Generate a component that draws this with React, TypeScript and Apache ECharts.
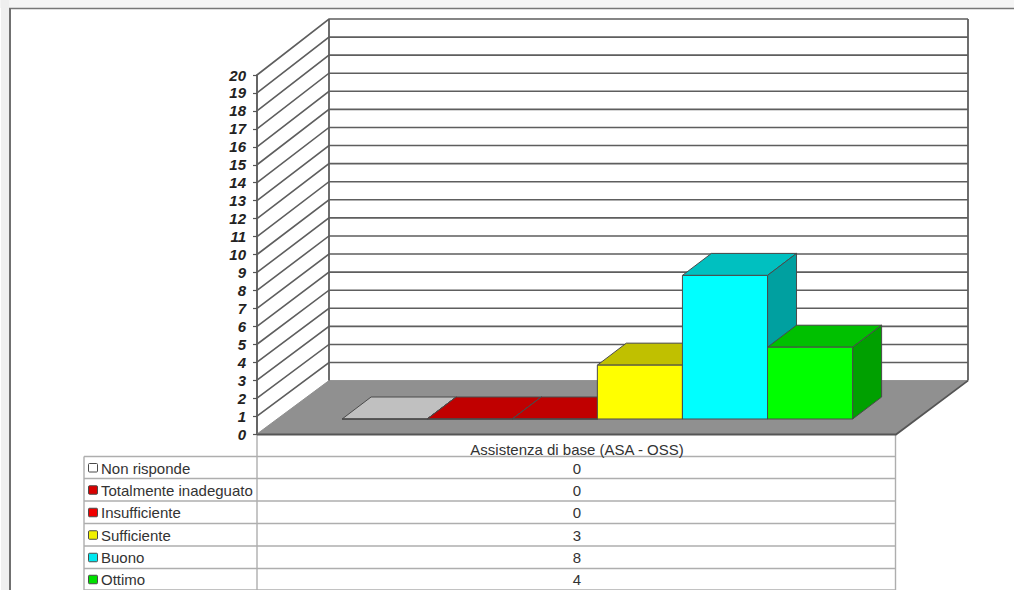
import React, { useEffect, useRef } from "react";
import * as echarts from "echarts";

// Survey answers for one service, one bar per rating.
const columnTitle = "Assistenza di base (ASA - OSS)";
const ratings = ["Non risponde", "Totalmente inadeguato", "Insufficiente", "Sufficiente", "Buono", "Ottimo"];
const counts = [0, 0, 0, 3, 8, 4];
const yTicks = [0, 1, 2, 3, 4, 5, 6, 7, 8, 9, 10, 11, 12, 13, 14, 15, 16, 17, 18, 19, 20];

// Face colours for each bar: front, top, side.
const frontColors = ["#FFFFFF", "#C80000", "#C80000", "#FFFF00", "#00FFFF", "#00FF00"];
const topColors = ["#C0C0C0", "#C00000", "#C00000", "#C0C000", "#00C0C0", "#00C000"];
const sideColors = ["#A0A0A0", "#A00000", "#A00000", "#A0A000", "#00A0A0", "#00A000"];
const swatchColors = ["#FFFFFF", "#D80000", "#F00000", "#F0F000", "#00E8F0", "#00E000"];

const FONT = "'Liberation Sans', Arial, sans-serif";
const EDGE = "#4a4a4a";
const RULE = "#5e5e5e";
const TABLE_LINE = "#aeaeae";

// Oblique projection of the box: the back wall sits up and to the right of the front plane,
// with a slightly longer vertical shift at the top of the wall than at the floor.
const WALL_DX = 72;
const WALL_DY_BOTTOM = 53.4;
const WALL_DY_TOP = 56;
const BAR_SHIFT_X = 20;
const BAR_SHIFT_Y = 15;
const BAR_DEPTH_X = 29;
const BAR_DEPTH_Y = 22;

const GRID = { left: 257, top: 75, width: 639, height: 359 };
const X_MIN = -0.765;
const X_MAX = 6.745;

const wallShift = (level: number) =>
  WALL_DY_BOTTOM + ((WALL_DY_TOP - WALL_DY_BOTTOM) * level) / yTicks[yTicks.length - 1];

// Data table under the plot.
const TABLE_LEFT = 84;
const TABLE_SPLIT = 257;
const TABLE_RIGHT = 895.5;
const TABLE_HEADER_TOP = 435;
const TABLE_ROW_LINES = [456.5, 478.5, 501, 523.5, 546, 568.5, 590];

function buildTable(): any[] {
  const out: any[] = [];
  const hLine = (x1: number, x2: number, y: number) => ({
    type: "line",
    silent: true,
    shape: { x1, y1: y, x2, y2: y },
    style: { stroke: TABLE_LINE, lineWidth: 1.4 },
  });
  const vLine = (x: number, y1: number, y2: number) => ({
    type: "line",
    silent: true,
    shape: { x1: x, y1, x2: x, y2 },
    style: { stroke: TABLE_LINE, lineWidth: 1.4 },
  });
  out.push(hLine(TABLE_SPLIT, TABLE_RIGHT, TABLE_ROW_LINES[0]));
  TABLE_ROW_LINES.slice(1).forEach((y) => out.push(hLine(TABLE_LEFT, TABLE_RIGHT, y)));
  out.push(hLine(TABLE_LEFT, TABLE_SPLIT, TABLE_ROW_LINES[0]));
  out.push(vLine(TABLE_LEFT, TABLE_ROW_LINES[0], 590));
  out.push(vLine(TABLE_SPLIT, TABLE_HEADER_TOP, 590));
  out.push(vLine(TABLE_RIGHT, TABLE_HEADER_TOP, 590));

  const textStyle = { font: `15px ${FONT}`, fill: "#333333", textVerticalAlign: "middle" };
  const center = 577;
  out.push({
    type: "text",
    silent: true,
    x: center,
    y: 449,
    style: { ...textStyle, text: columnTitle, textAlign: "center" },
  });
  ratings.forEach((name, i) => {
    const y = (TABLE_ROW_LINES[i] + TABLE_ROW_LINES[i + 1]) / 2 + 0.5;
    out.push({
      type: "rect",
      silent: true,
      shape: { x: 88.5, y: y - 4.5, width: 9, height: 8.5, r: 1 },
      style: { fill: swatchColors[i], stroke: "#4a4a4a", lineWidth: 1 },
    });
    out.push({
      type: "text",
      silent: true,
      x: 101,
      y,
      style: { ...textStyle, text: name, textAlign: "left" },
    });
    out.push({
      type: "text",
      silent: true,
      x: center,
      y,
      style: { ...textStyle, text: String(counts[i]), textAlign: "center" },
    });
  });
  return out;
}

// Page edge around the sheet: pale margins and a dark frame line.
const sheetFrame: any[] = [
  { type: "rect", silent: true, shape: { x: 0, y: 0, width: 1014, height: 8 }, style: { fill: "#f5f5f5" } },
  { type: "rect", silent: true, shape: { x: 1, y: 0, width: 8, height: 590 }, style: { fill: "#efefef" } },
  { type: "line", silent: true, shape: { x1: 9, y1: 8.5, x2: 1014, y2: 8.5 }, style: { stroke: "#777777", lineWidth: 1.6 } },
  { type: "line", silent: true, shape: { x1: 10, y1: 8, x2: 10, y2: 590 }, style: { stroke: "#707070", lineWidth: 2 } },
];

// Floor of the box, from the y = 0 edge of the plot to the back wall.
function renderFloor(_params: any, api: any) {
  const [x0, y0] = api.coord([X_MIN, 0]);
  const [x1] = api.coord([X_MAX, 0]);
  const backY = y0 - wallShift(0);
  return {
    type: "group",
    children: [
      {
        type: "polygon",
        shape: {
          points: [
            [x0, y0],
            [x1, y0],
            [x1 + WALL_DX, backY],
            [x0 + WALL_DX, backY],
          ],
        },
        style: { fill: "#909090", stroke: "#909090", lineWidth: 1 },
      },
      {
        type: "polyline",
        shape: {
          points: [
            [x0, y0 + 0.5],
            [x1, y0 + 0.5],
            [x1 + WALL_DX, backY],
          ],
        },
        style: { fill: "none", stroke: "#555555", lineWidth: 1.8 },
      },
    ],
  };
}

// One tick level across the left wall and the back wall.
function renderWallRule(_params: any, api: any) {
  const level = api.value(1);
  const [x0, y] = api.coord([X_MIN, level]);
  const [x1] = api.coord([X_MAX, level]);
  const backY = y - wallShift(level);
  const children: any[] = [];
  if (level !== 0) {
    children.push({
      type: "polyline",
      shape: {
        points: [
          [x0, y],
          [x0 + WALL_DX, backY],
          [x1 + WALL_DX, backY],
        ],
      },
      style: { fill: "none", stroke: RULE, lineWidth: 1.6 },
    });
  }
  return { type: "group", children };
}

// Vertical corners of the back wall.
function renderWallCorners(_params: any, api: any) {
  const top = yTicks[yTicks.length - 1];
  const [x0, y0] = api.coord([X_MIN, 0]);
  const [x1, yTop] = api.coord([X_MAX, top]);
  const line = (x: number) => ({
    type: "line",
    shape: { x1: x + WALL_DX, y1: y0 - wallShift(0), x2: x + WALL_DX, y2: yTop - wallShift(top) },
    style: { stroke: RULE, lineWidth: 1.8 },
  });
  return { type: "group", children: [line(x0), line(x1)] };
}

// A box with three visible faces, standing on the floor.
function renderBar(params: any, api: any) {
  const i = params.dataIndex;
  const index = api.value(0);
  const [xa, y0] = api.coord([index, 0]);
  const [xb] = api.coord([index + 1, 0]);
  const [, yv] = api.coord([index, api.value(1)]);
  const left = xa + BAR_SHIFT_X;
  const right = xb + BAR_SHIFT_X;
  const base = y0 - BAR_SHIFT_Y;
  const top = yv - BAR_SHIFT_Y;
  const face = (points: number[][], fill: string) => ({
    type: "polygon",
    shape: { points },
    style: { fill, stroke: EDGE, lineWidth: 1, lineJoin: "round" },
  });
  return {
    type: "group",
    children: [
      face(
        [
          [left, top],
          [left + BAR_DEPTH_X, top - BAR_DEPTH_Y],
          [right + BAR_DEPTH_X, top - BAR_DEPTH_Y],
          [right, top],
        ],
        topColors[i]
      ),
      face(
        [
          [right, base],
          [right + BAR_DEPTH_X, base - BAR_DEPTH_Y],
          [right + BAR_DEPTH_X, top - BAR_DEPTH_Y],
          [right, top],
        ],
        sideColors[i]
      ),
      face(
        [
          [left, base],
          [right, base],
          [right, top],
          [left, top],
        ],
        frontColors[i]
      ),
    ],
  };
}

export default function App() {
  const ref = useRef<HTMLDivElement>(null);

  useEffect(() => {
    if (!ref.current) return;
    const chart = echarts.init(ref.current, undefined, { renderer: "svg" });
    chart.setOption({
      animation: false,
      backgroundColor: "#ffffff",
      grid: { ...GRID, containLabel: false },
      xAxis: { type: "value", min: X_MIN, max: X_MAX, show: false },
      yAxis: {
        type: "value",
        min: 0,
        max: 20,
        interval: 1,
        splitLine: { show: false },
        axisLine: { show: true, onZero: false, lineStyle: { color: "#555555", width: 1.8 } },
        axisTick: { show: true, length: 4, lineStyle: { color: "#555555", width: 1.2 } },
        axisLabel: {
          show: true,
          margin: 11,
          color: "#222222",
          fontFamily: FONT,
          fontSize: 15,
          fontStyle: "italic",
          fontWeight: "bold",
        },
      },
      graphic: { elements: [...sheetFrame, ...buildTable()] },
      series: [
        {
          type: "custom",
          name: "Pavimento",
          silent: true,
          renderItem: renderFloor,
          encode: { x: 0, y: 1 },
          data: [[X_MIN, 0]],
          z: 1,
        },
        {
          type: "custom",
          name: "Griglia",
          silent: true,
          renderItem: renderWallRule,
          encode: { x: 0, y: 1 },
          data: yTicks.map((t) => [X_MIN, t]),
          z: 2,
        },
        {
          type: "custom",
          name: "Angoli",
          silent: true,
          renderItem: renderWallCorners,
          encode: { x: 0, y: 1 },
          data: [[X_MIN, 0]],
          z: 3,
        },
        {
          type: "custom",
          name: columnTitle,
          silent: true,
          renderItem: renderBar,
          encode: { x: 0, y: 1 },
          data: counts.map((v, i) => [i, v]),
          z: 4,
        },
      ],
    });
    return () => chart.dispose();
  }, []);

  return (
    <div
      ref={ref}
      style={{ position: "absolute", left: 0, top: 0, width: 1014, height: 590, overflow: "hidden" }}
    />
  );
}
